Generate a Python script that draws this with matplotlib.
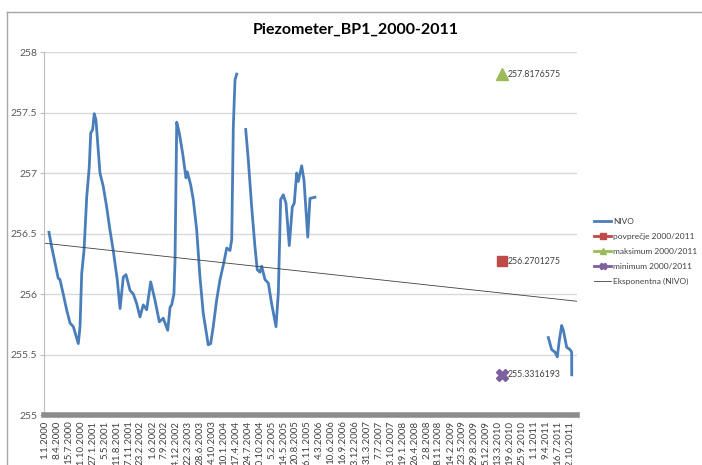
import numpy as np
import matplotlib
matplotlib.use("Agg")
import matplotlib.pyplot as plt
from matplotlib.lines import Line2D

plt.rcParams['font.family'] = ['Lato', 'DejaVu Sans']

# ── Podatki (dnevi od 1.1.2000, nivo v m) ─────────────────────────────────────
dan_1 = [33, 55, 82, 109, 123, 150, 178, 206, 233, 274, 288, 302, 321, 343,
         364, 376, 392, 405, 419, 452, 479, 507, 534, 561, 594, 617, 644, 666,
         699, 726, 754, 781, 808, 836, 869, 904, 940, 972, 1009, 1028, 1041,
         1060, 1069, 1083, 1104, 1132, 1159, 1170, 1198, 1219, 1247, 1274,
         1301, 1342, 1362, 1383, 1411, 1439, 1466, 1494, 1521, 1535, 1548,
         1562, 1576]
nivo_1 = [256.51, 256.39, 256.26, 256.13, 256.12, 256.00, 255.87, 255.76,
          255.73, 255.59, 255.73, 256.17, 256.36, 256.80, 257.05, 257.33,
          257.36, 257.49, 257.44, 257.00, 256.89, 256.72, 256.53, 256.36,
          256.12, 255.88, 256.14, 256.16, 256.03, 256.00, 255.92, 255.81,
          255.91, 255.87, 256.10, 255.95, 255.77, 255.80, 255.70, 255.89,
          255.91, 256.00, 256.28, 257.42, 257.33, 257.16, 256.96, 257.01,
          256.90, 256.78, 256.53, 256.14, 255.84, 255.58, 255.59, 255.73,
          255.95, 256.12, 256.24, 256.38, 256.36, 256.45, 257.38, 257.77,
          257.8176575]

dan_2 = [1650, 1671, 1699, 1726, 1745, 1767, 1781, 1808, 1836, 1863, 1899,
         1918, 1937, 1959, 1981, 2008, 2033, 2049, 2069, 2082, 2110, 2129,
         2160, 2178, 2219]
nivo_2 = [257.36, 257.11, 256.72, 256.39, 256.20, 256.18, 256.23, 256.12,
          256.09, 255.92, 255.73, 256.01, 256.78, 256.82, 256.75, 256.40,
          256.72, 256.75, 257.00, 256.93, 257.06, 256.94, 256.47, 256.79,
          256.80]

dan_3 = [4137, 4165, 4192, 4211, 4228, 4247, 4261, 4288, 4316, 4329, 4330]
nivo_3 = [255.64, 255.54, 255.52, 255.48, 255.62, 255.74, 255.70, 255.56,
          255.54, 255.52, 255.3316193]

# trend (eksponentna, NIVO) - začetek in konec
trend_dan = [-8, 4373]
trend_nivo = [256.42, 255.94]

# statistika 2000/2011
stat_dan = 3757
povprecje = 256.2701275
maksimum = 257.8176575
minimum = 255.3316193

x_oznake = ['1.1.2000', '8.4.2000', '15.7.2000', '21.10.2000', '27.1.2001',
            '5.5.2001', '11.8.2001', '17.11.2001', '23.2.2002', '1.6.2002',
            '7.9.2002', '14.12.2002', '22.3.2003', '28.6.2003', '4.10.2003',
            '10.1.2004', '17.4.2004', '24.7.2004', '30.10.2004', '5.2.2005',
            '14.5.2005', '20.8.2005', '26.11.2005', '4.3.2006', '10.6.2006',
            '16.9.2006', '23.12.2006', '31.3.2007', '7.7.2007', '13.10.2007',
            '19.1.2008', '26.4.2008', '2.8.2008', '8.11.2008', '14.2.2009',
            '23.5.2009', '29.8.2009', '5.12.2009', '13.3.2010', '19.6.2010',
            '25.9.2010', '1.1.2011', '9.4.2011', '16.7.2011', '22.10.2011']
x_korak = 98
y_oznake = [255, 255.5, 256, 256.5, 257, 257.5, 258]

# ── Slika ─────────────────────────────────────────────────────────────────────
modra = '#4a7ebb'
rdeca = '#be4b48'
zelena = '#9bbb59'
vijola = '#7d60a0'

fig = plt.figure(figsize=(7.02, 4.65), dpi=100)
ax = fig.add_axes([44 / 702, 1 - 415 / 465, 533 / 702, 363 / 465])

ax.set_xlim(-8, 4373)
ax.set_ylim(255, 258)
ax.set_yticks(y_oznake)
ax.set_yticklabels([f'{v:g}' for v in y_oznake])
ax.set_xticks(np.arange(len(x_oznake)) * x_korak)
ax.set_xticklabels(x_oznake, rotation=90)
ax.grid(axis='y', color='#d9d9d9', lw=1)
ax.set_axisbelow(True)

for s in ['top', 'right']:
    ax.spines[s].set_visible(False)
ax.spines['left'].set_color('#bfbfbf')
ax.spines['bottom'].set_color('#8c8c8c')
ax.spines['bottom'].set_linewidth(4)
ax.tick_params(axis='y', colors='#bfbfbf', labelcolor='#595959',
               labelsize=7.5, length=3, pad=2)
ax.tick_params(axis='x', length=0, labelcolor='#404040', labelsize=7, pad=4)

ax.plot(dan_1, nivo_1, color=modra, lw=2)
ax.plot(dan_2, nivo_2, color=modra, lw=2)
ax.plot(dan_3, nivo_3, color=modra, lw=2)
ax.plot(trend_dan, trend_nivo, color='#404040', lw=0.6)

ax.plot(stat_dan, povprecje, 's', color=rdeca, ms=7)
ax.plot(stat_dan, maksimum, '^', color=zelena, ms=8)
ax.plot(stat_dan, minimum, 'X', color=vijola, ms=8)
for v in [povprecje, maksimum, minimum]:
    ax.text(stat_dan + 45, v, f'{v:.7f}', va='center', ha='left',
            fontsize=6.3, color='#404040')

fig.text(356 / 702, 1 - 30 / 465, 'Piezometer_BP1_2000-2011', ha='center',
         va='center', fontsize=11.5, fontweight='bold')

# okvir grafikona
fig.add_artist(Line2D([7 / 702, 7 / 702], [0, 1 - 12 / 465],
                      transform=fig.transFigure, color='#a6a6a6', lw=1))
fig.add_artist(Line2D([7 / 702, 1], [1 - 12 / 465, 1 - 12 / 465],
                      transform=fig.transFigure, color='#a6a6a6', lw=1))

roc = [
    Line2D([], [], color=modra, lw=2),
    Line2D([], [], color=rdeca, lw=2, marker='s', ms=5),
    Line2D([], [], color=zelena, lw=2, marker='^', ms=5),
    Line2D([], [], color=vijola, lw=2, marker='X', ms=5),
    Line2D([], [], color='#404040', lw=0.6),
]
imena = ['NIVO', 'povprečje 2000/2011', 'maksimum 2000/2011',
         'minimum 2000/2011', 'Eksponentna (NIVO)']
fig.legend(roc, imena, loc='upper left',
           bbox_to_anchor=(590 / 702, 1 - 214 / 465), frameon=False,
           fontsize=6, handlelength=2.0, handletextpad=0.3,
           labelspacing=0.95, borderpad=0, labelcolor='#404040')

fig.savefig('out.png', dpi=100)
